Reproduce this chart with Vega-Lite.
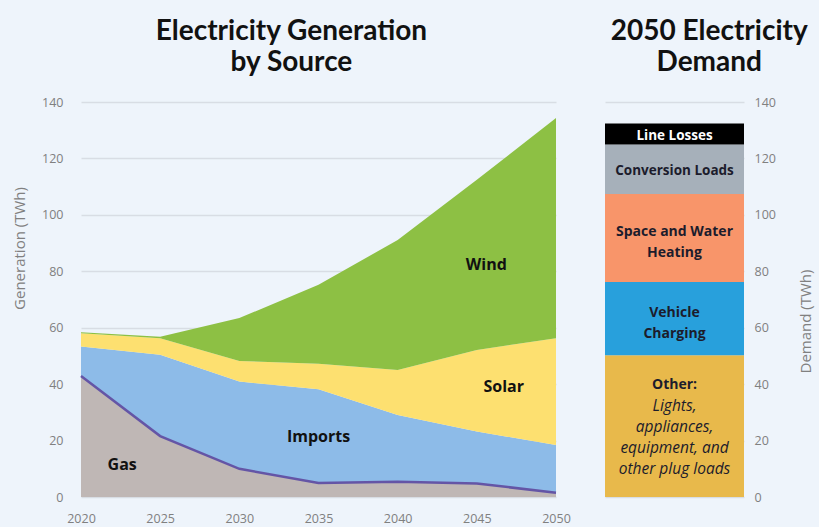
{
  "$schema": "https://vega.github.io/schema/vega-lite/v6.json",
  "background": "#eef4fb",
  "padding": {"left": 12, "top": 18, "right": 5, "bottom": 2},
  "spacing": 34,
  "resolve": {"scale": {"color": "independent"}},
  "config": {
    "view": {"stroke": null},
    "font": "Open Sans",
    "axis": {
      "domain": false,
      "ticks": false,
      "labelColor": "#808080",
      "titleColor": "#808080",
      "labelFontSize": 12.5,
      "titleFontSize": 15,
      "titleFontWeight": "normal",
      "gridColor": "#d8dde4",
      "gridWidth": 1.5
    },
    "title": {"font": "Lato", "fontSize": 28, "fontWeight": "bold", "color": "#111111", "lineHeight": 31, "offset": 19, "frame": "bounds"}
  },
  "datasets": {
    "gen": [
      {"year": 2020, "source": "Gas", "value": 42.9},
      {"year": 2025, "source": "Gas", "value": 21.6},
      {"year": 2030, "source": "Gas", "value": 10.0},
      {"year": 2035, "source": "Gas", "value": 5.0},
      {"year": 2040, "source": "Gas", "value": 5.4},
      {"year": 2045, "source": "Gas", "value": 4.8},
      {"year": 2050, "source": "Gas", "value": 1.5},
      {"year": 2020, "source": "Imports", "value": 10.4},
      {"year": 2025, "source": "Imports", "value": 28.8},
      {"year": 2030, "source": "Imports", "value": 30.9},
      {"year": 2035, "source": "Imports", "value": 33.2},
      {"year": 2040, "source": "Imports", "value": 23.7},
      {"year": 2045, "source": "Imports", "value": 18.4},
      {"year": 2050, "source": "Imports", "value": 16.9},
      {"year": 2020, "source": "Solar", "value": 4.7},
      {"year": 2025, "source": "Solar", "value": 5.9},
      {"year": 2030, "source": "Solar", "value": 7.3},
      {"year": 2035, "source": "Solar", "value": 9.0},
      {"year": 2040, "source": "Solar", "value": 15.9},
      {"year": 2045, "source": "Solar", "value": 28.9},
      {"year": 2050, "source": "Solar", "value": 37.9},
      {"year": 2020, "source": "Wind", "value": 0.4},
      {"year": 2025, "source": "Wind", "value": 0.5},
      {"year": 2030, "source": "Wind", "value": 15.2},
      {"year": 2035, "source": "Wind", "value": 28.0},
      {"year": 2040, "source": "Wind", "value": 46.1},
      {"year": 2045, "source": "Wind", "value": 60.3},
      {"year": 2050, "source": "Wind", "value": 78.0}
    ],
    "labels": [
      {"year": 2045.6, "value": 82.3, "text": "Wind"},
      {"year": 2046.7, "value": 39.0, "text": "Solar"},
      {"year": 2035.0, "value": 21.3, "text": "Imports"},
      {"year": 2022.6, "value": 11.3, "text": "Gas"}
    ],
    "demand": [
      {"category": "Other", "value": 50.2, "label": ["Other:"], "note": ["Lights,", "appliances,", "equipment, and", "other plug loads"]},
      {"category": "Vehicle Charging", "value": 26.0, "label": ["Vehicle", "Charging"]},
      {"category": "Space and Water Heating", "value": 31.2, "label": ["Space and Water", "Heating"]},
      {"category": "Conversion Loads", "value": 17.5, "label": ["Conversion Loads"]},
      {"category": "Line Losses", "value": 7.5, "label": ["Line Losses"]}
    ]
  },
  "hconcat": [
    {
      "width": 475,
      "height": 395,
      "title": {"text": ["Electricity Generation", "by Source"]},
      "layer": [
        {
          "data": {"name": "gen"},
          "mark": {"type": "area"},
          "encoding": {
            "x": {"field": "year", "type": "quantitative", "scale": {"domain": [2020, 2050], "nice": false},
                  "axis": {"values": [2020, 2025, 2030, 2035, 2040, 2045, 2050], "format": "d", "grid": false, "title": null, "labelPadding": 15, "labelFlush": false}},
            "y": {"field": "value", "type": "quantitative", "stack": "zero", "scale": {"domain": [0, 140], "nice": false},
                  "axis": {"values": [0, 20, 40, 60, 80, 100, 120, 140], "title": "Generation  (TWh)", "labelPadding": 18, "titlePadding": 14, "titleY": 146}},
            "color": {"field": "source", "type": "nominal",
                      "scale": {"domain": ["Gas", "Imports", "Solar", "Wind"], "range": ["#bfb7b5", "#8dbbe8", "#fde070", "#8dc044"]},
                      "legend": null},
            "order": {"field": "source", "sort": "ascending"}
          }
        },
        {
          "data": {"name": "gen"},
          "transform": [{"filter": "datum.source === 'Gas'"}],
          "mark": {"type": "line", "color": "#6455a6", "strokeWidth": 2.5},
          "encoding": {
            "x": {"field": "year", "type": "quantitative"},
            "y": {"field": "value", "type": "quantitative"}
          }
        },
        {
          "data": {"name": "labels"},
          "mark": {"type": "text", "fontWeight": "bold", "fontSize": 16, "color": "#111111", "font": "Open Sans"},
          "encoding": {
            "x": {"field": "year", "type": "quantitative"},
            "y": {"field": "value", "type": "quantitative"},
            "text": {"field": "text"}
          }
        }
      ]
    },
    {
      "width": 139,
      "height": 395,
      "title": {"text": ["2050 Electricity", "Demand"]},
      "data": {"name": "demand"},
      "transform": [
        {"stack": "value", "groupby": [], "as": ["v0", "v1"]},
        {"calculate": "(datum.v0 + datum.v1) / 2", "as": "mid"}
      ],
      "encoding": {
        "x": {"datum": "2050", "type": "nominal", "axis": null, "scale": {"paddingInner": 0, "paddingOuter": 0}}
      },
      "layer": [
        {
          "mark": {"type": "bar"},
          "encoding": {
            "y": {"field": "v0", "type": "quantitative", "scale": {"domain": [0, 140], "nice": false},
                  "axis": {"orient": "right", "values": [0, 20, 40, 60, 80, 100, 120, 140], "title": "Demand (TWh)", "titleAngle": 270, "labelPadding": 10, "titlePadding": 38, "titleY": 219}},
            "y2": {"field": "v1"},
            "color": {"field": "category", "type": "nominal",
                      "scale": {"domain": ["Other", "Vehicle Charging", "Space and Water Heating", "Conversion Loads", "Line Losses"],
                                "range": ["#e8b94b", "#28a0dc", "#f8956a", "#a6b0ba", "#000000"]},
                      "legend": null}
          }
        },
        {
          "transform": [{"filter": "datum.category === 'Line Losses' || datum.category === 'Conversion Loads'"}],
          "mark": {"type": "text", "fontWeight": "bold", "fontSize": 13.5, "dy": 2, "font": "Open Sans"},
          "encoding": {
            "y": {"field": "mid", "type": "quantitative"},
            "text": {"field": "label"},
            "color": {"condition": {"test": "datum.category === 'Line Losses'", "value": "#ffffff"}, "value": "#1c1c2c"}
          }
        },
        {
          "transform": [{"filter": "datum.category === 'Vehicle Charging' || datum.category === 'Space and Water Heating'"}],
          "mark": {"type": "text", "fontWeight": "bold", "fontSize": 14, "lineHeight": 21, "dy": -6, "color": "#1c1c2c", "font": "Open Sans"},
          "encoding": {
            "y": {"field": "mid", "type": "quantitative"},
            "text": {"field": "label"}
          }
        },
        {
          "transform": [{"filter": "datum.category === 'Other'"}],
          "mark": {"type": "text", "fontWeight": "bold", "fontSize": 14, "dy": -41, "color": "#1c1c2c", "font": "Open Sans"},
          "encoding": {
            "y": {"field": "mid", "type": "quantitative"},
            "text": {"field": "label"}
          }
        },
        {
          "transform": [{"filter": "datum.category === 'Other'"}],
          "mark": {"type": "text", "fontStyle": "italic", "fontSize": 15.5, "lineHeight": 21, "dy": -20, "color": "#1c1c2c", "font": "Open Sans"},
          "encoding": {
            "y": {"field": "mid", "type": "quantitative"},
            "text": {"field": "note"}
          }
        }
      ]
    }
  ]
}
